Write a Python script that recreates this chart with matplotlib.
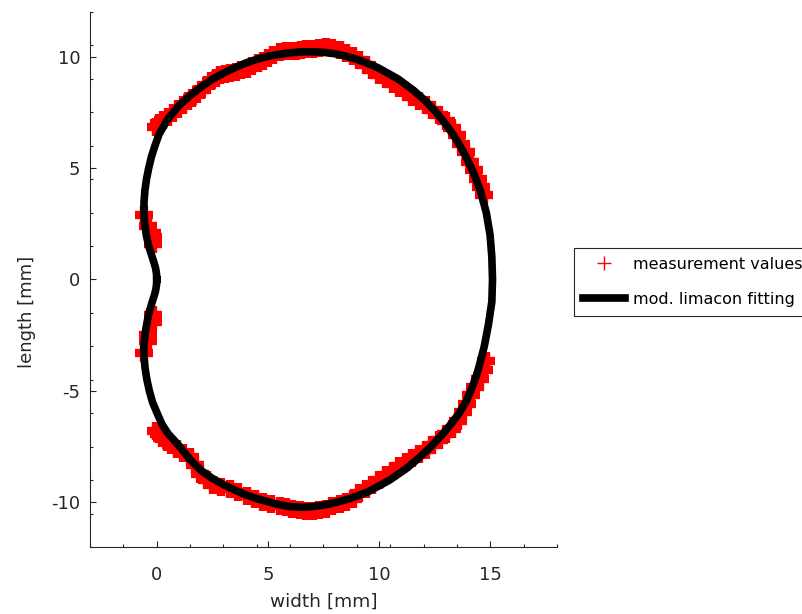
import numpy as np
import matplotlib
matplotlib.use("Agg")
import matplotlib.pyplot as plt
from matplotlib.ticker import FixedLocator

plt.rcParams["font.family"] = ["DejaVu Sans"]
plt.rcParams["axes.unicode_minus"] = False

# Measured contour points [mm]
# upper arc, left to right
upper_x = [
    -0.05, 0.1, 0.3, 0.5, 0.74, 0.95, 1.19, 1.4, 1.6, 1.79, 2.0, 2.24, 2.45, 2.65,
    2.84, 3.05, 3.29, 3.55, 3.8, 4.04, 4.3, 4.55, 4.78, 5.0, 5.25, 5.53, 5.8, 6.05,
    6.28, 6.5, 6.73, 7.02, 7.32, 7.62, 7.9, 8.22, 8.5, 8.82, 9.1, 9.42, 9.7, 10.01,
    10.3, 10.61, 10.9, 11.21, 11.5, 11.81, 12.1, 12.4, 12.7, 13.0, 13.3, 13.49, 13.7,
    13.9, 14.09, 14.27, 14.45, 14.6, 14.72,
]
upper_y = [
    6.85, 7.0, 7.15, 7.3, 7.47, 7.65, 7.85, 8.0, 8.15, 8.30, 8.5, 8.74, 8.9, 9.05,
    9.19, 9.23, 9.27, 9.33, 9.4, 9.45, 9.58, 9.72, 9.82, 9.95, 10.08, 10.2, 10.23, 10.25,
    10.27, 10.3, 10.35, 10.35, 10.39, 10.45, 10.4, 10.31, 10.18, 10.04, 9.85, 9.64, 9.42, 9.19,
    8.98, 8.78, 8.6, 8.40, 8.2, 8.0, 7.82, 7.62, 7.38, 7.13, 6.8, 6.46, 6.1,
    5.7, 5.26, 4.9, 4.52, 4.15, 3.8,
]
# lower arc, right to left
lower_x = [
    14.8, 14.7, 14.53, 14.33, 14.12, 13.95, 13.78, 13.55, 13.3, 13.0, 12.7, 12.4, 12.1,
    11.81, 11.5, 11.21, 10.9, 10.61, 10.3, 10.01, 9.7, 9.42, 9.1, 8.82, 8.5, 8.22, 7.9,
    7.62, 7.3, 7.02, 6.7, 6.43, 6.1, 5.8, 5.53, 5.15, 4.78, 4.4, 4.04, 3.65, 3.29, 2.9,
    2.54, 2.25, 1.94, 1.7, 1.49, 1.2, 0.9, 0.65, 0.45, 0.25, 0.1, -0.05,
]
lower_y = [
    -3.65, -4.05, -4.45, -4.83, -5.2, -5.57, -5.95, -6.33, -6.7, -6.95, -7.2, -7.44, -7.63,
    -7.82, -8.0, -8.19, -8.38, -8.57, -8.79, -9.01, -9.2, -9.39, -9.6, -9.83, -9.97, -10.09, -10.18,
    -10.28, -10.35, -10.40, -10.38, -10.36, -10.28, -10.22, -10.16, -10.07, -9.98, -9.84, -9.69, -9.54, -9.39, -9.3,
    -9.24, -8.98, -8.71, -8.33, -7.96, -7.78, -7.59, -7.42, -7.29, -7.1, -6.92, -6.8,
]
# isolated points either side of the dent
dent_x = [-0.57, -0.39, -0.22, -0.17, -0.17, -0.17, -0.17, -0.39, -0.4, -0.57]
dent_y = [2.91, 2.42, 2.1, 1.9, 1.6, -1.6, -1.91, -2.47, -2.74, -3.3]

meas_x = upper_x + lower_x + dent_x
meas_y = upper_y + lower_y + dent_y

# Modified limacon fit, traced from the dent over the top and back [mm]
fit_x = [
    0.0, -0.01, -0.05, -0.12, -0.2, -0.36, -0.47, -0.54, -0.58, -0.57, -0.53, -0.46,
    -0.36, -0.24, -0.08, 0.1, 0.38, 0.5, 1.0, 1.5, 2.0, 2.5, 3.0, 3.5, 4.0, 4.5, 5.0,
    5.5, 6.0, 6.5, 7.0, 7.5, 8.0, 8.5, 9.0, 9.42, 9.95, 10.85, 11.53, 12.10, 12.57,
    12.97, 13.33, 13.64, 13.91, 14.15, 14.36, 14.55, 14.82, 14.99, 15.07, 15.10,
    15.07, 14.92, 14.73, 14.47, 14.31, 14.12, 13.90, 13.60, 13.22, 12.80, 12.33, 11.80,
    11.20, 10.47, 9.55, 9.0, 8.5, 8.0, 7.5, 7.0, 6.5, 6.0, 5.5, 5.0, 4.5, 4.0, 3.5,
    3.0, 2.5, 2.0, 1.5, 1.0, 0.5, 0.24, 0.02, -0.19, -0.33, -0.44, -0.52, -0.57, -0.58,
    -0.53, -0.45, -0.35, -0.2, -0.12, -0.05, -0.01, 0.0,
]
fit_y = [
    0.0, 0.25, 0.5, 0.75, 1.0, 1.5, 2.0, 2.5, 3.0, 3.5, 4.0, 4.5,
    5.0, 5.5, 6.0, 6.5, 7.0, 7.2, 7.8, 8.25, 8.64, 8.98, 9.26, 9.5, 9.71, 9.88, 10.01,
    10.1, 10.17, 10.21, 10.22, 10.19, 10.13, 10.02, 9.88, 9.72, 9.5, 9.0, 8.5, 8.0, 7.5,
    7.0, 6.5, 6.0, 5.5, 5.0, 4.5, 4.0, 3.0, 2.0, 1.0, 0.0,
    -1.0, -2.0, -3.0, -4.0, -4.5, -5.0, -5.5, -6.0, -6.5, -7.0, -7.5, -8.0,
    -8.5, -9.0, -9.5, -9.72, -9.88, -10.02, -10.12, -10.19, -10.22, -10.19, -10.1, -9.97, -9.83, -9.66, -9.44,
    -9.2, -8.92, -8.57, -8.08, -7.45, -6.9, -6.5, -6.0, -5.5, -5.0, -4.5, -4.0, -3.5, -3.0,
    -2.5, -2.0, -1.5, -1.0, -0.75, -0.5, -0.25, 0.0,
]

x_ticks = [0, 5, 10, 15]
y_ticks = [-10, -5, 0, 5, 10]

fig = plt.figure(figsize=(8.03, 6.14), dpi=100)
ax = fig.add_axes([90 / 803, 1 - 547 / 614, 467 / 803, 535 / 614])

ax.plot(meas_x, meas_y, "+", color="red", markersize=13, markeredgewidth=6,
        label="measurement values")
ax.plot(fit_x, fit_y, "-", color="black", linewidth=5.5, solid_joinstyle="round",
        label="mod. limacon fitting")

ax.set_xlim(-3, 18)
ax.set_ylim(-12, 12)
ax.set_xticks(x_ticks)
ax.set_yticks(y_ticks)
ax.xaxis.set_minor_locator(FixedLocator(np.arange(-3, 18.01, 1.5)))
ax.yaxis.set_minor_locator(FixedLocator(np.arange(-12, 12.01, 1.5)))

for side in ["top", "right"]:
    ax.spines[side].set_visible(False)
for side in ["left", "bottom"]:
    ax.spines[side].set_color("#262626")
    ax.spines[side].set_linewidth(0.8)

ax.tick_params(which="both", direction="in", colors="#262626", width=0.8)
ax.tick_params(which="major", length=4, labelsize=13)
ax.tick_params(which="minor", length=2)
ax.tick_params(axis="x", which="major", pad=14)
ax.tick_params(axis="y", which="major", pad=7)

ax.set_xlabel("width [mm]", fontsize=13.3, color="#262626")
ax.set_ylabel("length [mm]", fontsize=13, color="#262626")
ax.xaxis.set_label_coords(0.5, -0.086)
ax.yaxis.set_label_coords(-0.116, 0.44)

leg = fig.legend(loc="upper left", bbox_to_anchor=(574 / 803, 1 - 248 / 614),
                 borderaxespad=0, fontsize=11.5, frameon=True, fancybox=False,
                 edgecolor="#262626", framealpha=1, handlelength=2.63,
                 handletextpad=0.5, borderpad=0.56, labelspacing=1.25)
leg.get_frame().set_linewidth(0.8)
# thin plus in the legend key
leg.legend_handles[0].set_markeredgewidth(1)
leg.legend_handles[0].set_markersize(9.5)

fig.savefig("out.png", dpi=100)
